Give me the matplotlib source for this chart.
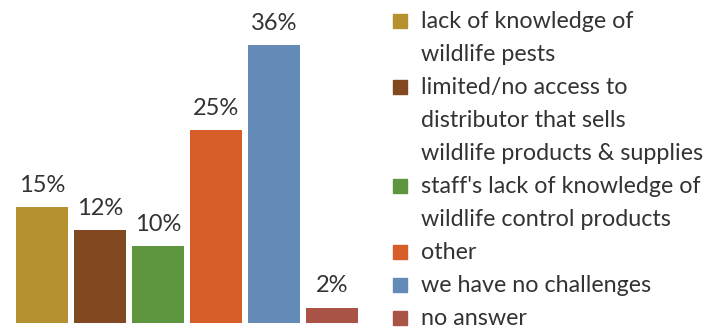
import matplotlib
matplotlib.use("Agg")
import matplotlib.pyplot as plt
from matplotlib.patches import Rectangle

# data
categories = [
    "lack of knowledge of\nwildlife pests",
    "limited/no access to\ndistributor that sells\nwildlife products & supplies",
    "staff's lack of knowledge of\nwildlife control products",
    "other",
    "we have no challenges",
    "no answer",
]
values = [15, 12, 10, 25, 36, 2]
colors = ["#B5922F", "#824820", "#5E963F", "#D75E28", "#648AB8", "#A95446"]

plt.rcParams["font.family"] = ["Lato", "DejaVu Sans"]

W, H = 723, 332
fig = plt.figure(figsize=(W / 100, H / 100), dpi=100)

# bars: centre of first at 42px, pitch 58px, baseline 9px from bottom
ax = fig.add_axes([0, 9 / H, 380 / W, 323 / H])
x = range(len(values))
ax.bar(x, values, width=0.9, color=colors)
ax.set_xlim(-42 / 58, (380 - 42) / 58)
ax.set_ylim(0, 323 / 7.72)
ax.axis("off")

for i, v in enumerate(values):
    ax.annotate(f"{v}%", (i, v), xytext=(0, 8), textcoords="offset points",
                ha="center", va="bottom", fontsize=17, color="#333333")

# pick legend font size so the widest line fits like in the reference (~282px)
r = fig.canvas.get_renderer()
probe = fig.text(0, 0, "wildlife products & supplies", fontsize=10)
w10 = probe.get_window_extent(r).width
probe.remove()
fs = 10 * 282 / w10

# legend drawn by hand so the square sits on the first line
line = 0
for lab, c in zip(categories, colors):
    base = 28 + 33 * line
    fig.patches.append(Rectangle((393 / W, 1 - (base) / H), 14 / W, 14 / H,
                                 transform=fig.transFigure, color=c))
    for j, part in enumerate(lab.split("\n")):
        fig.text(421 / W, 1 - (base + 33 * j) / H, part, fontsize=fs,
                 color="#333333", va="baseline", ha="left")
    line += lab.count("\n") + 1

fig.savefig("out.png", dpi=100)
